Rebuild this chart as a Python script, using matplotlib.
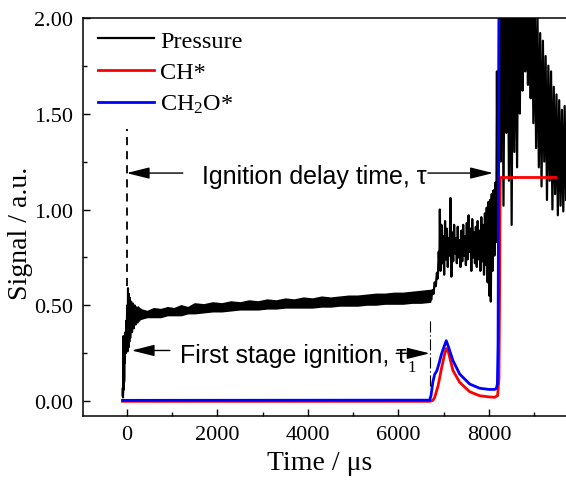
import matplotlib
matplotlib.use('Agg')
import matplotlib.pyplot as plt
from matplotlib.ticker import MultipleLocator, FormatStrFormatter

plt.rcParams['font.family'] = 'Liberation Serif'
plt.rcParams['mathtext.fontset'] = 'custom'
plt.rcParams['mathtext.rm'] = 'Liberation Serif'
plt.rcParams['mathtext.it'] = 'Liberation Serif:italic'

# pressure trace (time in us)
p_early_t = [-90, -85, -80, -75, -70, -65, -60, -55, -50, -45,
             -40, -30, -20, -10, 0, 10, 20, 30, 40, 50,
             60, 70, 80, 100, 120, 140, 160, 180, 200, 220,
             240, 260, 280, 300]
p_early = [0.03, 0.07, 0.02, 0.05, 0.34, 0.06, 0.33, 0.10, 0.12, 0.30,
           0.20, 0.36, 0.25, 0.42, 0.30, 0.50, 0.26, 0.59, 0.28, 0.56,
           0.31, 0.54, 0.33, 0.52, 0.36, 0.51, 0.38, 0.50, 0.40, 0.49,
           0.41, 0.49, 0.42, 0.48]

# noisy plateau: lower / upper edge of the trace
band_t = [300, 450, 600, 750, 900, 1050, 1200, 1350, 1500, 1700,
          1900, 2100, 2300, 2500, 2700, 2900, 3100, 3300, 3500, 3700,
          3900, 4100, 4300, 4500, 4700, 4900, 5100, 5300, 5500, 5700,
          5900, 6100, 6300, 6500, 6700]
band_lo = [0.43, 0.44, 0.44, 0.44, 0.45, 0.45, 0.45, 0.46, 0.46, 0.465,
           0.47, 0.47, 0.475, 0.48, 0.48, 0.48, 0.485, 0.485, 0.49, 0.49,
           0.49, 0.49, 0.495, 0.495, 0.50, 0.50, 0.50, 0.505, 0.505, 0.51,
           0.51, 0.51, 0.515, 0.515, 0.52]
band_hi = [0.48, 0.47, 0.485, 0.48, 0.49, 0.485, 0.50, 0.49, 0.51, 0.505,
           0.515, 0.51, 0.52, 0.515, 0.525, 0.52, 0.53, 0.525, 0.535, 0.53,
           0.54, 0.535, 0.545, 0.54, 0.545, 0.55, 0.55, 0.555, 0.56, 0.56,
           0.565, 0.565, 0.57, 0.575, 0.58]

p_late_t = [6700, 6725, 6750, 6775, 6800, 6825, 6850, 6870, 6890, 6905,
            6915, 6930, 6950, 6970, 6990, 7010, 7030, 7050, 7070, 7090,
            7110, 7130, 7150, 7170, 7190, 7210, 7230, 7250, 7270, 7290,
            7310, 7330, 7350, 7370, 7390, 7410, 7430, 7450, 7470, 7490,
            7510, 7530, 7550, 7570, 7590, 7610, 7630, 7650, 7670, 7690,
            7710, 7730, 7750, 7770, 7790, 7810, 7830, 7850, 7870, 7890,
            7910, 7930, 7950, 7970, 7990, 8010, 8025, 8040, 8060, 8080,
            8100, 8120, 8140, 8160, 8175, 8190, 8205, 8215,
            8230, 8260, 8290, 8320, 8350, 8380, 8410, 8440, 8470, 8500,
            8530, 8560, 8590, 8620, 8650, 8680, 8710, 8740, 8770, 8800,
            8830, 8860, 8890, 8920, 8950, 8980, 9010, 9040, 9070, 9100,
            9130, 9160, 9190, 9220, 9250, 9280, 9310, 9340, 9370, 9400,
            9430, 9460, 9490, 9520, 9550, 9580, 9610, 9640, 9670, 9700]
p_late = [0.56, 0.53, 0.58, 0.56, 0.62, 0.60, 0.67, 0.64, 0.78, 0.70,
          1.00, 0.68, 0.92, 0.72, 0.86, 0.66, 0.94, 0.74, 0.90, 0.70,
          0.85, 0.76, 1.06, 0.65, 0.88, 0.73, 0.92, 0.77, 0.85, 0.72,
          0.91, 0.75, 0.84, 0.70, 0.89, 0.73, 0.92, 0.76, 0.86, 0.71,
          0.93, 0.74, 0.97, 0.78, 0.90, 0.68, 0.95, 0.75, 0.88, 0.72,
          0.91, 0.70, 0.94, 0.74, 0.89, 0.68, 0.96, 0.73, 0.92, 0.66,
          0.98, 0.71, 1.01, 0.62, 1.04, 0.55, 1.05, 0.52, 1.08, 0.68,
          1.10, 0.76, 1.14, 0.83, 1.72, 0.92, 1.28, 1.60,
          2.30, 1.25, 2.30, 1.02, 2.25, 1.40, 2.30, 1.15, 2.25, 0.92,
          2.30, 1.30, 2.20, 1.22, 2.30, 1.50, 2.25, 1.62, 2.30, 1.72,
          2.20, 1.65, 2.30, 1.58, 2.15, 1.45, 2.10, 1.32, 2.02, 1.22,
          1.92, 1.12, 1.88, 1.25, 1.80, 1.05, 1.75, 1.15, 1.72, 1.00,
          1.64, 1.08, 1.60, 0.97, 1.57, 1.02, 1.52, 0.99, 1.54, 1.05]

# CH* emission
ch_t = [-90, 6700, 6760, 6800, 6875, 6950, 7020, 7057, 7100, 7205,
        7353, 7574, 7794, 8000, 8125, 8190, 8220, 8235, 8245, 8250, 9470]
ch = [0.0, 0.0, 0.005, 0.02, 0.08, 0.17, 0.246, 0.275, 0.26, 0.16,
      0.099, 0.05, 0.029, 0.023, 0.021, 0.03, 0.12, 0.6, 1.1, 1.167, 1.167]

# CH2O* emission
ch2o_t = [-90, 6690, 6720, 6760, 6800, 6850, 6900, 6950, 7000, 7057,
          7110, 7205, 7353, 7574, 7794, 8000, 8125, 8165, 8185, 8200,
          8210, 8220]
ch2o = [0.005, 0.006, 0.03, 0.10, 0.14, 0.16, 0.20, 0.245, 0.28, 0.316,
        0.28, 0.212, 0.142, 0.090, 0.068, 0.062, 0.062, 0.068, 0.09, 0.3,
        1.0, 2.2]

fig = plt.figure(figsize=(5.66, 4.81), dpi=100)
ax = fig.add_axes([0.1461, 0.1337, 0.8539, 0.8274])

ax.fill_between(band_t, band_lo, band_hi, color='k', lw=1.2)
ax.plot(p_early_t, p_early, color='k', lw=1.5)
l_p, = ax.plot(p_late_t, p_late, color='k', lw=1.6)
l_ch, = ax.plot(ch_t, ch, color='red', lw=2.0)
l_ch2o, = ax.plot(ch2o_t, ch2o, color='blue', lw=2.0)

# annotations
arrow = dict(arrowstyle='-|>,head_length=1.0,head_width=0.25', color='k',
             lw=1.0, mutation_scale=14, shrinkA=0, shrinkB=0)
sans = 'Liberation Sans'
ax.plot([0, 0], [0.6, 1.42], color='k', lw=1.3, dashes=(4.5, 3.3))
ax.annotate('', xy=(0, 1.19), xytext=(1240, 1.19), arrowprops=arrow)
ax.annotate('', xy=(8090, 1.19), xytext=(6650, 1.19), arrowprops=arrow)
ax.text(1655, 1.138, 'Ignition delay time, τ', family=sans, fontsize=18,
        va='baseline')

ax.plot([6691, 6691], [0.08, 0.43], color='k', lw=0.8,
        dashes=(10, 2.5, 1.2, 2.5))
ax.annotate('', xy=(110, 0.265), xytext=(955, 0.265), arrowprops=arrow)
ax.annotate('', xy=(6691, 0.25), xytext=(5950, 0.25), arrowprops=arrow)
ax.text(1176, 0.203, 'First stage ignition, τ', family=sans, fontsize=18,
        va='baseline')
ax.text(6205, 0.158, '1', fontsize=12, va='baseline')

ax.set_xlim(-970, 9700)
ax.set_ylim(-0.075, 2.0)
ax.xaxis.set_major_locator(MultipleLocator(2000))
ax.xaxis.set_minor_locator(MultipleLocator(1000))
ax.yaxis.set_major_locator(MultipleLocator(0.5))
ax.yaxis.set_minor_locator(MultipleLocator(0.25))
ax.yaxis.set_major_formatter(FormatStrFormatter('%.2f'))
ax.tick_params(which='both', direction='in', top=False, right=False,
               labelsize=16, width=1.0, pad=7)
ax.tick_params(which='major', length=5)
ax.tick_params(which='minor', length=3)
ax.spines['right'].set_visible(False)
for s in ['left', 'bottom', 'top']:
    ax.spines[s].set_linewidth(1.1)

ax.set_xlabel('Time / μs', fontsize=20)
ax.xaxis.set_label_coords(0.49, -0.085)
ax.set_ylabel('Signal / a.u.', fontsize=20)
ax.yaxis.set_label_coords(-0.103, 0.46)

ax.legend([l_p, l_ch, l_ch2o], ['Pressure', 'CH*', 'CH$_2$O*'],
          loc='upper left', bbox_to_anchor=(0.0317, 0.97), frameon=False,
          fontsize=17.5, handlelength=2.3, handletextpad=0.25,
          labelspacing=0.4, borderpad=0, borderaxespad=0)

fig.savefig('out.png', dpi=100)
